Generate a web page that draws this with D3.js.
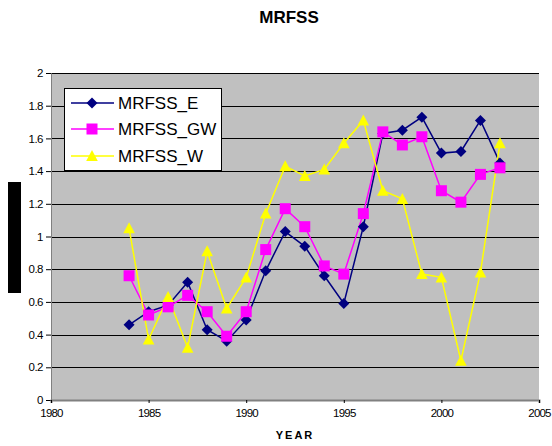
<!DOCTYPE html>
<html><head><meta charset="utf-8">
<script src="https://cdn.jsdelivr.net/npm/d3@7"></script>
<style>body{margin:0;background:#fff}svg{display:block;font-family:Arial,"Liberation Sans",sans-serif}</style>
</head><body><svg id="c" width="552" height="446"></svg>
<script>
const years = [1984,1985,1986,1987,1988,1989,1990,1991,1992,1993,1994,1995,1996,1997,1998,1999,2000,2001,2002,2003];
const mrfssE  = [0.46,0.54,0.58,0.72,0.43,0.36,0.49,0.79,1.03,0.94,0.76,0.59,1.06,1.63,1.65,1.73,1.51,1.52,1.71,1.45];
const mrfssGW = [0.76,0.52,0.57,0.64,0.54,0.39,0.54,0.92,1.17,1.06,0.82,0.77,1.14,1.64,1.56,1.61,1.28,1.21,1.38,1.42];
const mrfssW  = [1.05,0.37,0.63,0.32,0.91,0.56,0.75,1.14,1.43,1.37,1.41,1.57,1.71,1.28,1.23,0.77,0.75,0.24,0.78,1.57];
const xTicks = [1980,1985,1990,1995,2000,2005];
const yTicks = [0,0.2,0.4,0.6,0.8,1,1.2,1.4,1.6,1.8,2];
const seriesNames = ["MRFSS_E","MRFSS_GW","MRFSS_W"];

const svg = d3.select("#c");
const L=51,R=539,T=73,B=400;
const x = d3.scaleLinear().domain([1980,2005]).range([L,R]);
const y = d3.scaleLinear().domain([0,2]).range([B,T]);

svg.append("rect").attr("x",L).attr("y",T).attr("width",R-L).attr("height",B-T).attr("fill","#c0c0c0");
// gridlines
svg.append("g").selectAll("line").data(yTicks.filter(d=>d>0)).join("line")
  .attr("x1",L).attr("x2",R).attr("y1",d=>Math.round(y(d))+0.5).attr("y2",d=>Math.round(y(d))+0.5)
  .attr("stroke","#000").attr("stroke-width",1);

// axes
const yAxis = d3.axisLeft(y).tickValues(yTicks).tickSize(5).tickPadding(3).tickFormat(d=>String(d));
const gy = svg.append("g").attr("transform",`translate(${L},0)`).call(yAxis);
gy.select(".domain").attr("stroke","#808080");
gy.selectAll(".tick line").attr("stroke","#000");
gy.selectAll("text").attr("font-size","11.5px").attr("fill","#000").attr("letter-spacing","-0.5px").attr("font-family","Arial, Liberation Sans, sans-serif");

const xAxis = d3.axisBottom(x).tickValues(xTicks).tickSize(3).tickPadding(6).tickFormat(d3.format("d"));
const gx = svg.append("g").attr("transform",`translate(0,${B})`).call(xAxis);
gx.select(".domain").attr("stroke","#808080").attr("stroke-width",2);
gx.selectAll(".tick line").attr("stroke","#000");
gx.selectAll("text").attr("font-size","11.5px").attr("fill","#000").attr("letter-spacing","-0.8px").attr("font-family","Arial, Liberation Sans, sans-serif");

// title & labels
svg.append("text").attr("x",289).attr("y",23).attr("text-anchor","middle")
  .attr("font-size","17px").attr("font-weight","bold").text("MRFSS");
svg.append("text").attr("x",295).attr("y",439).attr("text-anchor","middle")
  .attr("font-size","11px").attr("font-weight","bold").attr("letter-spacing","2px").text("YEAR");
svg.append("rect").attr("x",8).attr("y",182).attr("width",13).attr("height",111).attr("fill","#000");

// series
const colors = ["#000080","#ff00ff","#ffff00"];
const symbols = [d3.symbolDiamond, d3.symbolSquare, d3.symbolTriangle];
const sizes = [50, 110, 80];
const data = [mrfssE, mrfssGW, mrfssW];
const line = d3.line().x((d,i)=>x(years[i])).y(d=>y(d));

function marker(g, k){
  if(k===0){
    g.append("path").attr("d","M0,-5.5L5.5,0L0,5.5L-5.5,0Z").attr("fill",colors[0]);
  } else if(k===1){
    g.append("rect").attr("x",-5.5).attr("y",-5.5).attr("width",11).attr("height",11).attr("fill",colors[1]);
  } else {
    g.append("path").attr("d","M0,-6L5.8,5L-5.8,5Z").attr("fill",colors[2]);
  }
}

data.forEach((vals,k)=>{
  svg.append("path").datum(vals).attr("d",line).attr("fill","none")
    .attr("stroke",colors[k]).attr("stroke-width",1.5);
});
data.forEach((vals,k)=>{
  svg.append("g").selectAll("g").data(vals).join("g")
    .attr("transform",(d,i)=>`translate(${x(years[i])},${y(d)})`)
    .each(function(){ marker(d3.select(this),k); });
});

// legend
const lg = svg.append("g");
lg.append("rect").attr("x",64.5).attr("y",88.5).attr("width",157).attr("height",82)
  .attr("fill","#fff").attr("stroke","#000").attr("stroke-width",1);
const rowY = [103,129,156];
seriesNames.forEach((n,k)=>{
  lg.append("line").attr("x1",71).attr("x2",114).attr("y1",rowY[k]).attr("y2",rowY[k])
    .attr("stroke",colors[k]).attr("stroke-width",1.5);
  const m = lg.append("g").attr("transform",`translate(92,${rowY[k]})`);
  marker(m,k);
  lg.append("text").attr("x",118).attr("y",rowY[k]+6).attr("font-size","17px").attr("fill","#000").text(n);
});
</script></body></html>
